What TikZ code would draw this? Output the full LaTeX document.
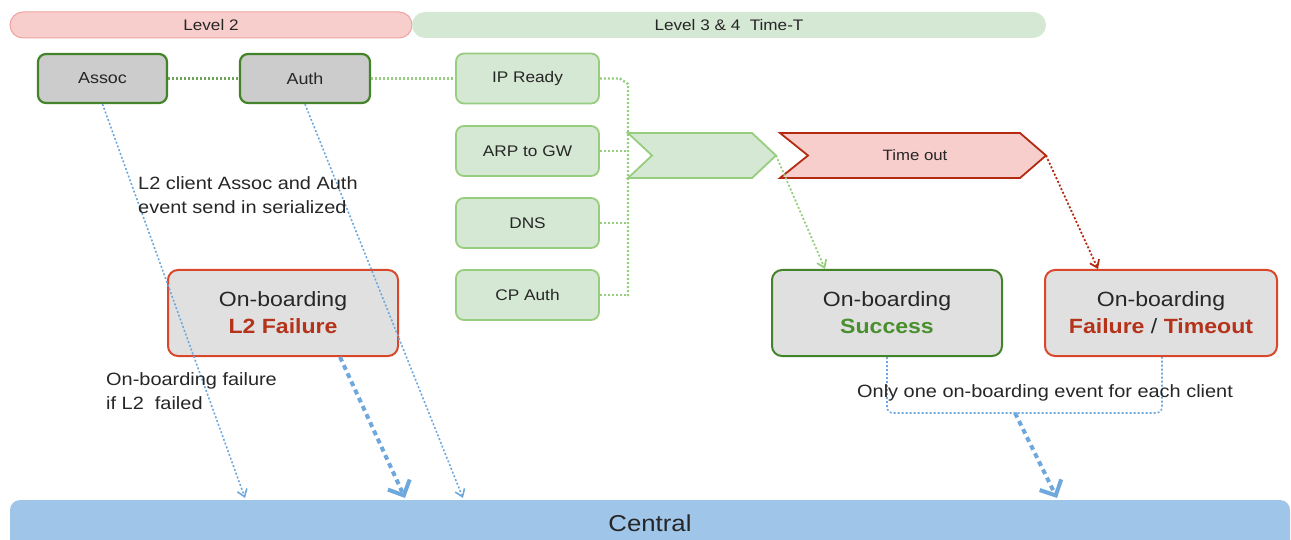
\documentclass[tikz,border=0pt]{standalone}
\usepackage{fontspec}
\setmainfont[FakeStretch=1.12]{Liberation Sans}
\usetikzlibrary{arrows.meta}
\definecolor{pinkF}{HTML}{F8CECC}
\definecolor{pinkD}{HTML}{EFA3A0}
\definecolor{greenF}{HTML}{D5E8D4}
\definecolor{greenD}{HTML}{97CD7E}
\definecolor{dkgreen}{HTML}{43832A}
\definecolor{txgreen}{HTML}{4A8F2E}
\definecolor{redD}{HTML}{D9472B}
\definecolor{redC}{HTML}{B22A10}
\definecolor{txred}{HTML}{B5331A}
\definecolor{grayA}{HTML}{CCCCCC}
\definecolor{grayB}{HTML}{E0E0E0}
\definecolor{blueL}{HTML}{6FA8DC}
\definecolor{blueF}{HTML}{9FC5E8}
\definecolor{txt}{HTML}{262626}
\begin{document}
\begin{tikzpicture}[x=1pt,y=-1pt,
  every node/.style={text=txt},
  levelbar/.style={rounded corners=13pt, minimum height=26pt, inner sep=0pt, font=\fontsize{15.3}{17}\selectfont},
  darkbox/.style={draw=dkgreen, line width=2.2pt, fill=grayA, rounded corners=8pt, minimum width=129pt, minimum height=49pt, inner sep=0pt, font=\fontsize{16}{18}\selectfont},
  greenbox/.style={draw=greenD, line width=1.8pt, fill=greenF, rounded corners=8pt, minimum width=143pt, minimum height=50pt, inner sep=0pt, font=\fontsize{15.4}{18}\selectfont},
  bigbox/.style={fill=grayB, line width=2pt, rounded corners=10pt, minimum width=230pt, minimum height=86pt, inner sep=0pt, align=center, font=\fontsize{20.6}{27}\selectfont},
  ann/.style={font=\fontsize{17.8}{24}\selectfont, align=left, inner sep=0pt},
  gdots/.style={draw=greenD, line width=2.4pt, dash pattern=on 2pt off 2pt},
  bthin/.style={draw=blueL, line width=1.6pt, dash pattern=on 2pt off 2pt, -{Straight Barb[length=7pt,width=10pt]}},
  bthick/.style={draw=blueL, line width=4pt, dash pattern=on 5pt off 4pt, -{Straight Barb[length=12pt,width=24pt]}},
]
\useasboundingbox (0,0) rectangle (1291,540);
\clip (0,0) rectangle (1291,540);

% level bars
\node[levelbar, fill=pinkF, draw=pinkD, line width=1pt, minimum width=402pt] (lv2) at (211,25) {Level 2};
\node[levelbar, fill=greenF, minimum width=634pt] (lv3) at (729,25) {Level 3 \& 4\ \ Time-T};

% L2 boxes
\node[darkbox] (assoc) at (102.5,78.5) {Assoc};
\node[darkbox, minimum width=130pt] (auth) at (305,78.5) {Auth};

% green boxes
\node[greenbox] (ip) at (527.5,78.5) {IP Ready};
\node[greenbox] (arp) at (527.5,151) {ARP to GW};
\node[greenbox] (dns) at (527.5,223) {DNS};
\node[greenbox] (cp) at (527.5,295) {CP Auth};

% connectors L2
\draw[gdots, draw=txgreen!80] (assoc.east) -- (auth.west);
\draw[gdots] (auth.east) -- (ip.west);

% bus
\coordinate (bustop) at (628,84);
\coordinate (busbot) at (628,297);
\draw[gdots] (ip.east) -- ++(20,0) -- (bustop) -- (busbot);
\draw[gdots] (arp.east) -- (arp.east -| bustop);
\draw[gdots] (dns.east) -- (dns.east -| bustop);
\draw[gdots] (cp.east) -- (cp.east -| bustop);

% chevrons
\draw[fill=greenF, draw=greenD, line width=1.8pt, line join=miter]
  (628,133) -- (752,133) -- (776,155.5) -- (752,178) -- (628,178) -- (652,155.5) -- cycle;
\coordinate (gtip) at (776,155.5);
\draw[fill=pinkF, draw=redC, line width=1.8pt, line join=miter]
  (780,133) -- (1020,133) -- (1046,155.5) -- (1020,178) -- (780,178) -- (808,155.5) -- cycle;
\coordinate (rtip) at (1046,155.5);
\node[font=\fontsize{15}{17}\selectfont] (tout) at (915,155.5) {Time out};

% result boxes
\node[bigbox, draw=redD] (l2f) at (283,313) {On-boarding\\\textbf{\color{txred}L2 Failure}};
\node[bigbox, draw=dkgreen] (succ) at (887,313) {On-boarding\\\textbf{\color{txgreen}Success}};
\node[bigbox, draw=redD, minimum width=232pt] (fail) at (1161,313) {On-boarding\\\textbf{\color{txred}Failure} / \textbf{\color{txred}Timeout}};

% green / red arrows to results
\draw[draw=greenD, line width=1.8pt, dash pattern=on 2pt off 2pt, -{Straight Barb[length=7pt,width=10pt]}] (gtip) -- (succ.north -| 825,0);
\draw[draw=redC, line width=1.8pt, dash pattern=on 2pt off 2pt, -{Straight Barb[length=7pt,width=10pt]}] (rtip) -- (fail.north -| 1098,0);

% central
\fill[blueF, rounded corners=10pt] (10,560) -- (10,500) -- (1290,500) -- (1290,560) -- cycle;
\node[font=\fontsize{23}{27}\selectfont] (central) at (650,523) {Central};

% blue arrows
\coordinate (c1) at (245,498);
\coordinate (c2) at (405,498);
\coordinate (c3) at (463,498);
\coordinate (c4) at (1057,498);
\draw[bthin] (assoc.south) -- (c1);
\draw[bthin] (auth.south) -- (c3);
\draw[bthick] (l2f.south -| 340,0) -- (c2);
\coordinate (merge) at (1015,413);
\draw[draw=blueL, line width=1.6pt, dash pattern=on 2pt off 2pt, rounded corners=6pt]
  (succ.south) -- (887,413) -- (1162,413) -- (fail.south -| 1162,0);
\draw[bthick] (merge) -- (c4);

% annotations
\node[ann, anchor=north west] (n1) at (138,176) {L2 client Assoc and Auth\\event send in serialized};
\node[ann, anchor=north west] (n2) at (106,372) {On-boarding failure\\if L2\ \ failed};
\node[ann, anchor=west] (n3) at (857,393) {Only one on-boarding event for each client};
\end{tikzpicture}
\end{document}
